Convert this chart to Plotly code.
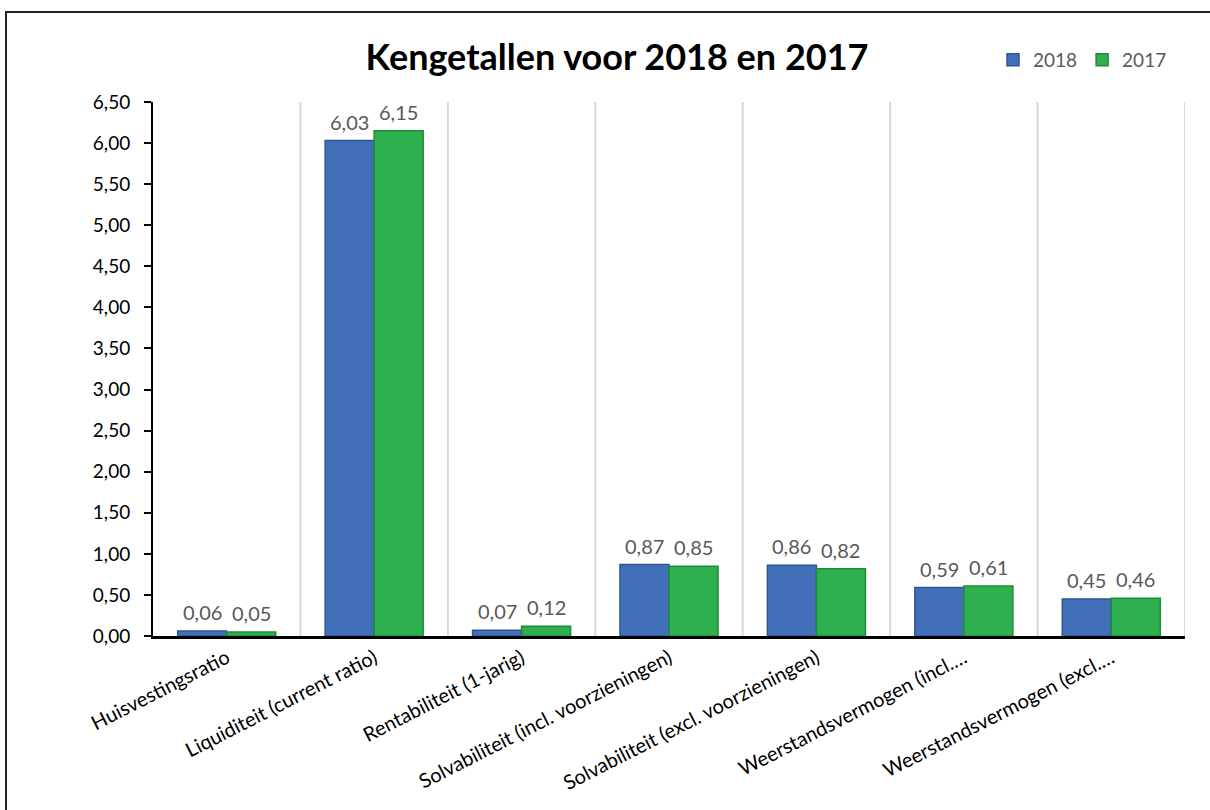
import plotly.graph_objects as go

categories = [
    "Huisvestingsratio",
    "Liquiditeit (current ratio)",
    "Rentabiliteit (1-jarig)",
    "Solvabiliteit (incl. voorzieningen)",
    "Solvabiliteit (excl. voorzieningen)",
    "Weerstandsvermogen (incl.…",
    "Weerstandsvermogen (excl.…",
]
values_2018 = [0.06, 6.03, 0.07, 0.87, 0.86, 0.59, 0.45]
values_2017 = [0.05, 6.15, 0.12, 0.85, 0.82, 0.61, 0.46]
y_ticks = [i * 0.5 for i in range(14)]

FONT = "Lato"
W, H = 1210, 810
L, R, T, B = 153, 25, 102, 174
pw, ph = W - L - R, H - T - B

def px_x(p):
    return (p - L) / pw

def px_y(p):
    return (H - B - p) / ph

fig = go.Figure()
fig.add_trace(go.Bar(
    name="2018", x=categories, y=values_2018,
    marker=dict(color="#4270B8", line=dict(color="#2E5592", width=1.5)),
))
fig.add_trace(go.Bar(
    name="2017", x=categories, y=values_2017,
    marker=dict(color="#2FB04F", line=dict(color="#1F8A3A", width=1.5)),
))

annotations = []
bar_w = pw / len(categories) * (1 - 0.335) / 2
for vals, shift in ((values_2018, -bar_w / 2), (values_2017, bar_w / 2)):
    for c, v in zip(categories, vals):
        annotations.append(dict(
            x=c, y=v, xref="x", yref="y", text=f"{v:.2f}".replace(".", ","),
            showarrow=False, yanchor="bottom", xshift=shift, yshift=5,
            font=dict(family=FONT, size=20, color="#595959"),
        ))

shapes = []
for i in range(len(categories)):
    shapes.append(dict(type="line", xref="x", yref="paper", x0=i + 0.5, x1=i + 0.5,
                       y0=0, y1=1, line=dict(color="#D9D9D9", width=2), layer="below"))
shapes.append(dict(type="rect", xref="paper", yref="paper",
                   x0=px_x(6), x1=px_x(1213), y0=px_y(12), y1=px_y(815),
                   line=dict(color="#222222", width=2)))

fig.update_layout(
    width=W, height=H,
    margin=dict(l=L, r=R, t=T, b=B, autoexpand=False),
    paper_bgcolor="white", plot_bgcolor="white",
    separators=",.",
    barmode="group", bargap=0.335, bargroupgap=0,
    title=dict(text="<b>Kengetallen voor 2018 en 2017</b>", x=617 / W, xref="container",
               y=1 - 57 / H, yref="container", xanchor="center", yanchor="middle",
               font=dict(family=FONT, size=36, color="black")),
    legend=dict(orientation="h", x=px_x(1172), xanchor="right", y=px_y(60), yanchor="middle",
                font=dict(family=FONT, size=19, color="#595959"), itemwidth=30,
                bgcolor="rgba(0,0,0,0)"),
    xaxis=dict(showgrid=False, showline=True, linecolor="black", linewidth=2.5,
               ticks="", tickangle=-27, tickfont=dict(family=FONT, size=20, color="black"),
               range=[-0.5, len(categories) - 0.5]),
    yaxis=dict(range=[0, 6.5], tickvals=y_ticks, tickformat=".2f", showgrid=False,
               zeroline=False, showline=True, linecolor="black", linewidth=2,
               ticks="outside", ticklen=7, tickwidth=1.5, tickcolor="black",
               ticklabelstandoff=10,
               tickfont=dict(family=FONT, size=19, color="black")),
    annotations=annotations, shapes=shapes,
)

fig.write_html("out.html", config={"displayModeBar": False},
               post_script="document.body.style.margin='0';document.body.style.overflow='hidden';")
